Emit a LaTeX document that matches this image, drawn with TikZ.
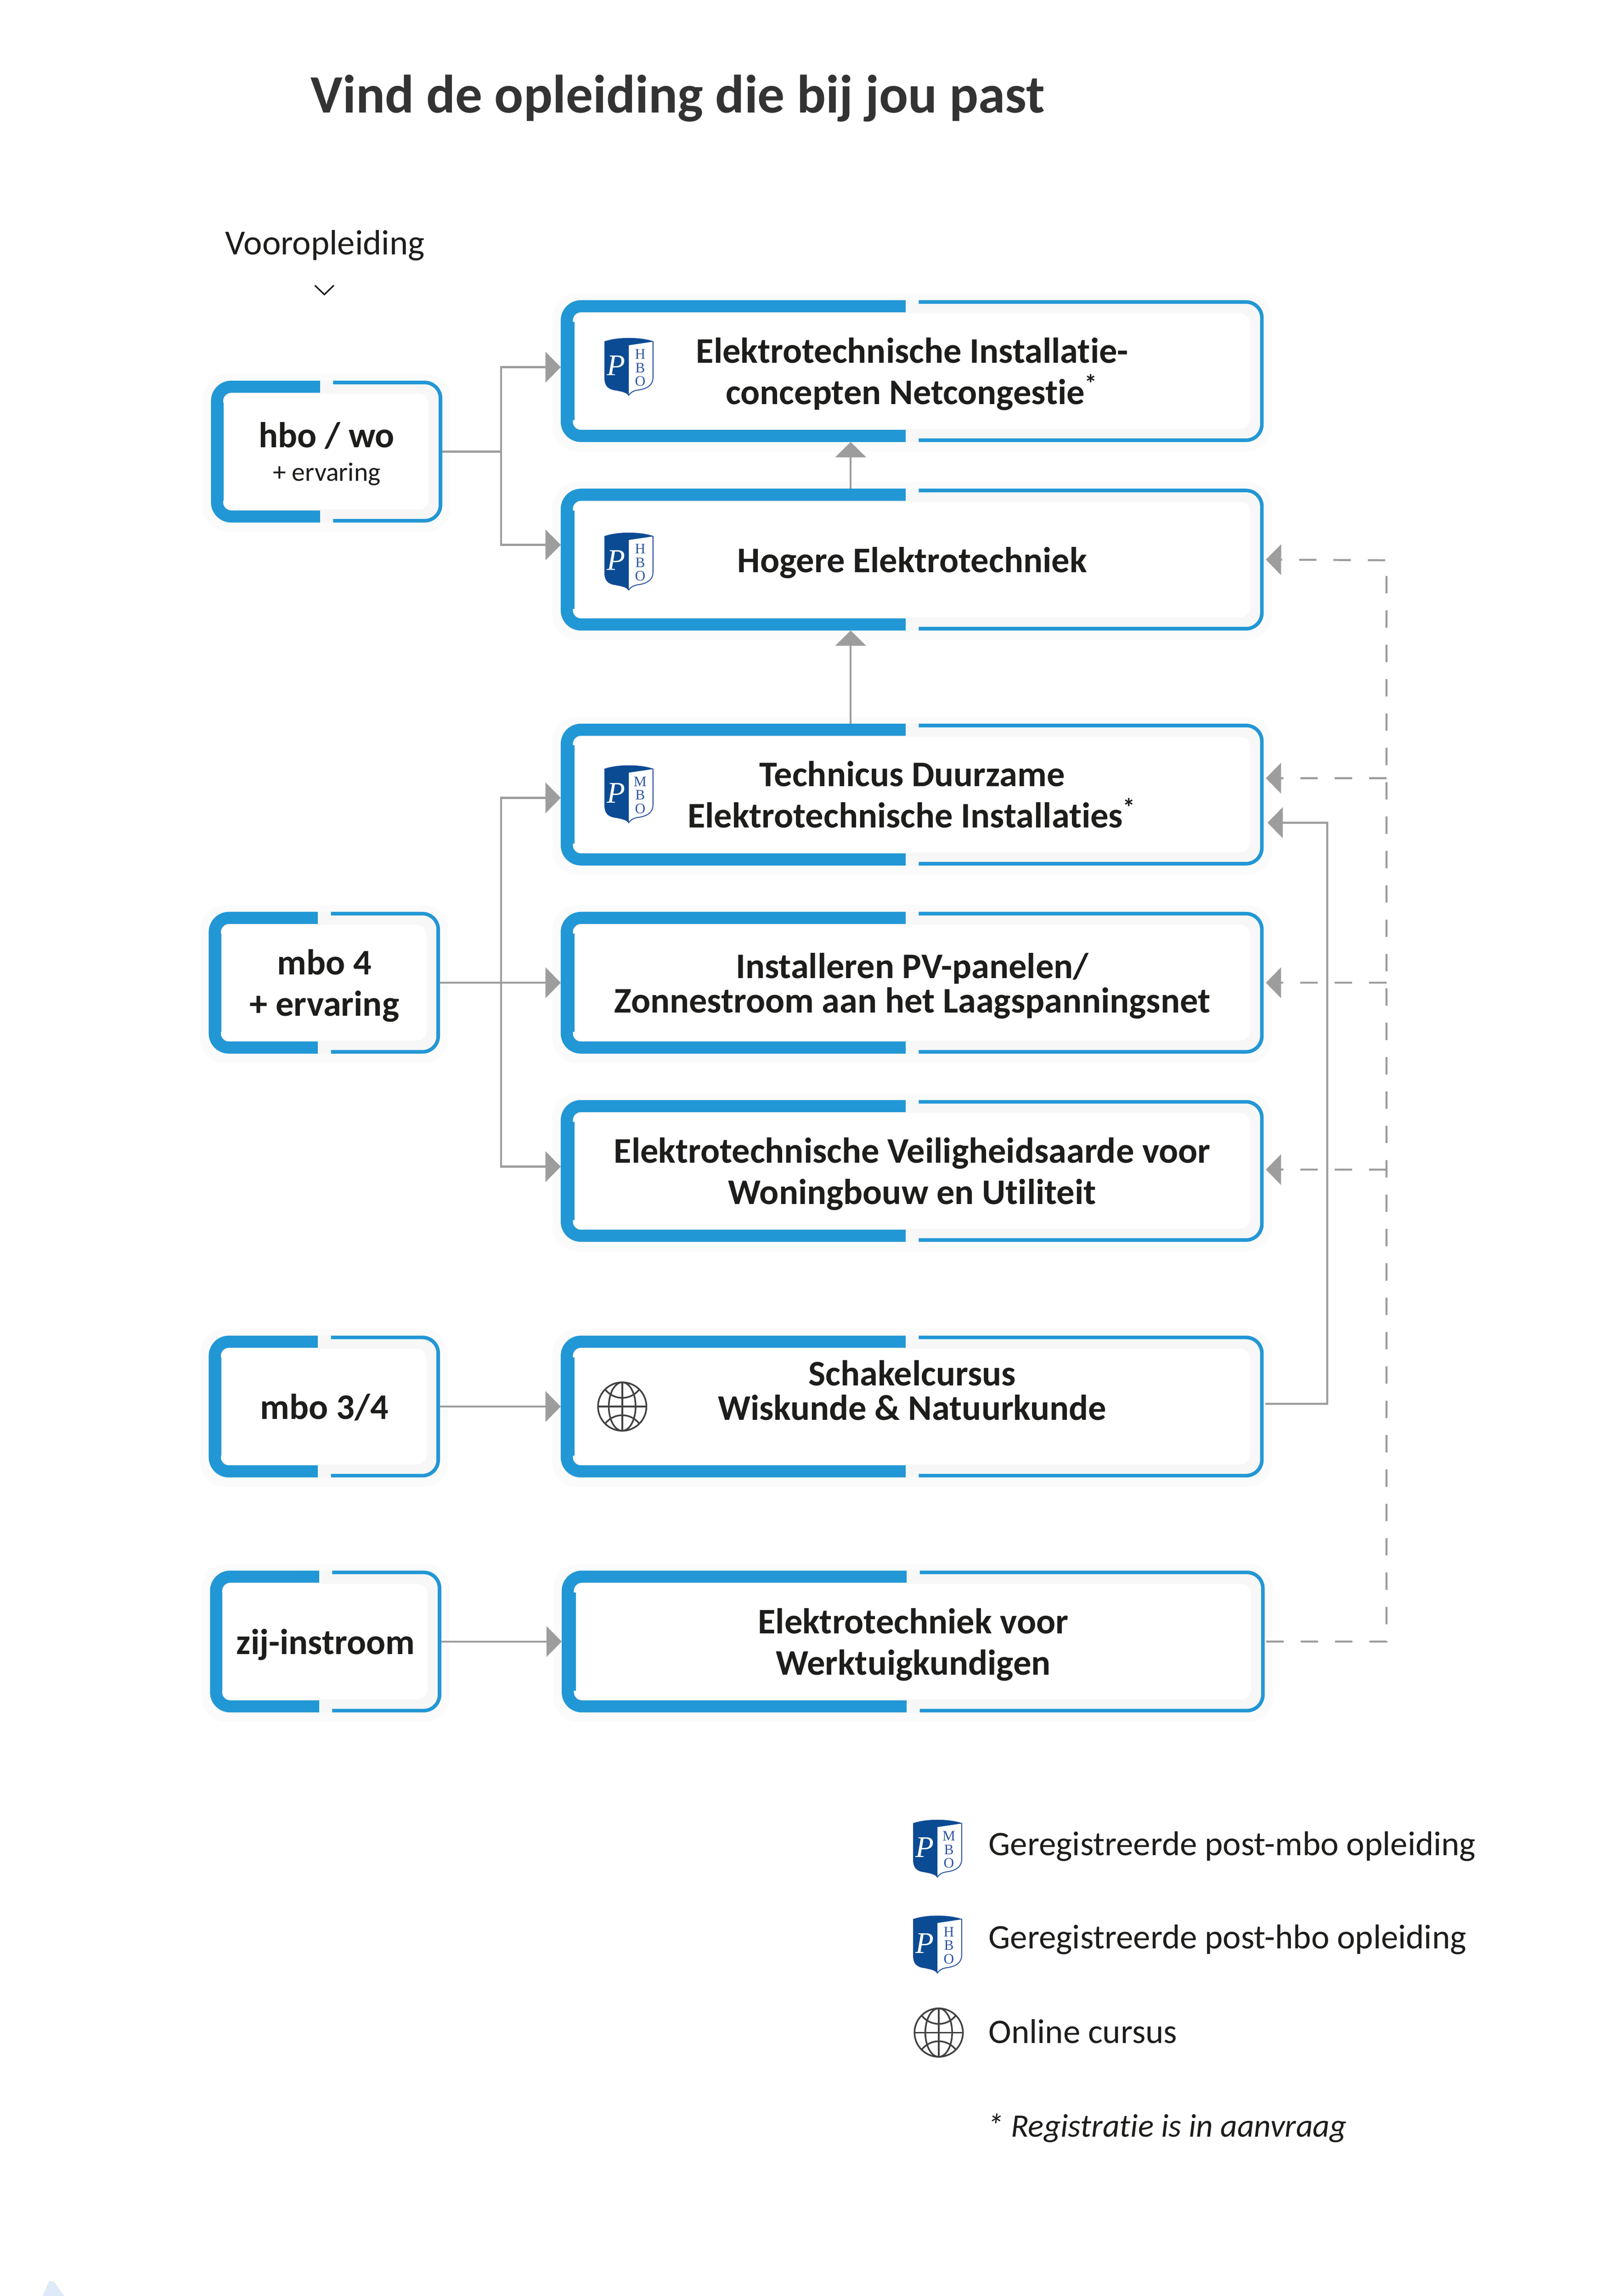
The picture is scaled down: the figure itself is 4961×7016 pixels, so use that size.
\documentclass[tikz,border=0pt]{standalone}
\usepackage{fontspec}
\usetikzlibrary{arrows.meta,backgrounds}
\setmainfont{Carlito}[Ligatures=NoCommon]
\newfontfamily\schildfont{Liberation Serif}

\definecolor{blauw}{HTML}{2297D5}
\definecolor{donkerblauw}{HTML}{0B4B93}
\definecolor{letterblauw}{HTML}{2F55A4}
\definecolor{lijngrijs}{HTML}{9D9D9D}
\definecolor{tekst}{HTML}{1D1D1B}
\definecolor{koptekst}{HTML}{333333}
\definecolor{bolgrijs}{HTML}{404040}
\definecolor{hoek}{HTML}{DEEAF8}

\tikzset{
  every node/.style={text=tekst},
  vak/.style={inner sep=0pt,align=center,minimum height=51.6pt,text depth=0pt,font=\fontsize{13.2}{15.2}\selectfont\bfseries},
  breedvak/.style={vak,minimum width=257.3pt},
  smalvak/.style={vak,minimum width=84.4pt},
  legenda/.style={anchor=base west,inner sep=0pt,font=\fontsize{12.6}{14}\selectfont},
  dikrand/.style={draw=blauw,line width=4.44pt,rounded corners=5.2pt},
  dunrand/.style={draw=blauw,line width=1.32pt,rounded corners=5.8pt},
  schaduw/.style={fill=black!1.5,rounded corners=9pt},
  vulrand/.style={fill=black!3,rounded corners=6.5pt},
  lijn/.style={draw=lijngrijs,line width=.75pt},
  pijl/.style={lijn,-{Triangle[length=5.6pt,width=11.2pt]}},
  stippel/.style={pijl,dash pattern=on 6.36pt off 6.24pt},
}

\newcommand{\kader}[2][0pt]{%
  \begin{pgfonlayer}{background}
    \fill[schaduw] ([shift={(-3pt,2.5pt)}]#2.north west) rectangle ([shift={(3pt,-3.5pt)}]#2.south east);
    \fill[vulrand] (#2.north west) rectangle (#2.south east);
    \fill[white,rounded corners=3.6pt] ([shift={(4.6pt,-4.8pt)}]#2.north west) rectangle ([shift={(-5pt,4.8pt)}]#2.south east);
    \fill[blauw] ([shift={(4.4pt,-8pt)}]#2.north west) rectangle ([shift={(4.44pt+#1,8pt)}]#2.south west);
    \draw[dikrand] ([shift={(-2.4pt,-2.22pt)}]#2.north) -| ([shift={(2.22pt,2.22pt)}]#2.south west) -- ([shift={(-2.4pt,2.22pt)}]#2.south);
    \draw[dunrand] ([shift={(2.4pt,-.66pt)}]#2.north) -| ([shift={(-.66pt,.66pt)}]#2.south east) -- ([shift={(2.4pt,.66pt)}]#2.south);
  \end{pgfonlayer}}

\newcommand{\schild}[3]{%
  \begin{scope}[shift={#2}]
    \filldraw[fill=white,draw=letterblauw,line width=.35pt] (0,10) .. controls (25,2) and (50,0) .. (73,0) .. controls (96,0) and (122,2) .. (147,10) -- (147,120) .. controls (147,145) and (125,155) .. (100,158) .. controls (88,160) and (78,165) .. (73,174) .. controls (68,165) and (55,162) .. (35,158) .. controls (10,155) and (0,145) .. (0,120) -- cycle;
    \fill[donkerblauw] (0,10) .. controls (25,2) and (50,0) .. (73,0) .. controls (96,0) and (122,2) .. (147,10) -- (73,21) -- (73,174) .. controls (68,165) and (55,162) .. (35,158) .. controls (10,155) and (0,145) .. (0,120) -- cycle;
    \node[text=white,inner sep=0pt,font=\fontsize{11}{12}\schildfont\itshape] (#1p) at (34,83) {P};
    \node[text=letterblauw,inner sep=0pt,align=center,font=\fontsize{5.3}{5}\schildfont] (#1l) at (108,90) {#3\\B\\O};
  \end{scope}}

\newcommand{\wereldbol}[1]{%
  \begin{scope}[shift={#1},draw=bolgrijs,line width=.6pt]
    \draw (0,0) circle [radius=74];
    \draw (0,0) ellipse [x radius=41,y radius=74];
    \draw (-74,0) -- (74,0);
    \draw (0,-74) -- (0,74);
    \draw (-52,-52) .. controls (-25,-18) and (25,-18) .. (52,-52);
    \draw (-52,52) .. controls (-25,18) and (25,18) .. (52,52);
  \end{scope}}

\begin{document}
\begin{tikzpicture}[x=.12pt,y=-.12pt]

\useasboundingbox (0,0) rectangle (4961,7016);

\fill[hoek] (130,7016) -- (150,6970) -- (165,6972) -- (197,7016) -- cycle;

\node[anchor=base west,text=koptekst,inner sep=0pt,font=\fontsize{19.8}{22}\selectfont\bfseries] (titel) at (948,345) {Vind de opleiding die bij jou past};
\node[inner sep=0pt,font=\fontsize{12.9}{14}\selectfont] (vooropleiding) at (993,750) {Vooropleiding};
\draw[draw=tekst,line width=.55pt] (962,872) -- (991,900) -- (1020,872);

\node[smalvak] (hbowo) at (998,1380) {hbo / wo\\[-3pt]{\fontsize{9.7}{11}\selectfont\mdseries + ervaring}};
\node[smalvak] (mbovier) at (991,3003) {mbo 4\\+ ervaring};
\node[smalvak] (mbodrie) at (991,4298) {mbo 3/4};
\node[smalvak] (zijinstroom) at (995,5016) {zij-instroom};

\node[breedvak] (netcongestie) at (2787,1134) {Elektrotechnische Installatie-\\concepten Netcongestie\textsuperscript{*}};
\node[breedvak] (hogere) at (2787,1710) {Hogere Elektrotechniek};
\node[breedvak] (duurzaam) at (2787,2428) {Technicus Duurzame\\Elektrotechnische Installaties\textsuperscript{*}};
\node[breedvak] (zonnestroom) at (2787,3003) {Installeren PV-panelen/\\[-2.6pt]Zonnestroom aan het Laagspanningsnet};
\node[breedvak] (veiligheid) at (2787,3578) {Elektrotechnische Veiligheidsaarde voor\\Woningbouw en Utiliteit};
\node[breedvak,text depth=12pt] (schakel) at (2787,4298) {Schakelcursus\\[-2.6pt]Wiskunde \& Natuurkunde};
\node[breedvak] (werktuig) at (2790,5016) {Elektrotechniek voor\\Werktuigkundigen};

\kader{hbowo}
\kader{mbovier}
\kader{mbodrie}
\kader{zijinstroom}
\kader[.7pt]{netcongestie}
\kader[.7pt]{hogere}
\kader[.7pt]{duurzaam}
\kader[.7pt]{zonnestroom}
\kader[.7pt]{veiligheid}
\kader[.7pt]{schakel}
\kader[.7pt]{werktuig}

\schild{sa}{(1848,1034)}{H}
\schild{sb}{(1848,1629)}{H}
\schild{sc}{(1848,2340)}{M}
\wereldbol{(1901,4298)}

\coordinate (splitshbo) at (1531,1380);
\coordinate (splitsmbo) at (1531,3003);
\coordinate (knik) at (4055,2514);
\coordinate (stip) at (4236,1712);
\coordinate (stipa) at (4236,2378);
\coordinate (stipb) at (4236,3003);
\coordinate (stipc) at (4236,3574);

\draw[lijn] (hbowo.east) -- (splitshbo);
\draw[pijl] (splitshbo) |- ([yshift=1.44pt]netcongestie.west);
\draw[pijl] (splitshbo) |- ([yshift=5.4pt]hogere.west);
\draw[pijl] (mbovier.east) -- (zonnestroom.west);
\draw[pijl] (splitsmbo) |- ([yshift=-1.2pt]duurzaam.west);
\draw[pijl] (splitsmbo) |- ([yshift=1.56pt]veiligheid.west);
\draw[pijl] (mbodrie.east) -- (schakel.west);
\draw[pijl] (zijinstroom.east) -- (werktuig.west);

\draw[pijl] (hogere.north -| 2599,0) -- (netcongestie.south -| 2599,0);
\draw[pijl] (duurzaam.north -| 2599,0) -- (hogere.south -| 2599,0);

\draw[pijl] ([shift={(.6pt,1pt)}]schakel.east) -| (knik) -- ([shift={(1.4pt,-10.3pt)}]duurzaam.east);

\draw[stippel] ([xshift=.6pt]werktuig.east) -| (stip) -- ([xshift=.8pt]hogere.east);
\draw[stippel] (stipa) -- ([shift={(.8pt,6pt)}]duurzaam.east);
\draw[stippel] (stipb) -- ([xshift=.8pt]zonnestroom.east);
\draw[stippel] (stipc) -- ([shift={(.8pt,.5pt)}]veiligheid.east);

\schild{sd}{(2791,5562)}{M}
\schild{se}{(2791,5855)}{H}
\wereldbol{(2868,6211)}
\node[legenda] (postmbo) at (3019,5670) {Geregistreerde post-mbo opleiding};
\node[legenda] (posthbo) at (3019,5955) {Geregistreerde post-hbo opleiding};
\node[legenda] (online) at (3019,6244) {Online cursus};
\node[legenda,font=\fontsize{12}{14}\selectfont\itshape] (aanvraag) at (3015,6530) {* Registratie is in aanvraag};

\end{tikzpicture}
\end{document}
